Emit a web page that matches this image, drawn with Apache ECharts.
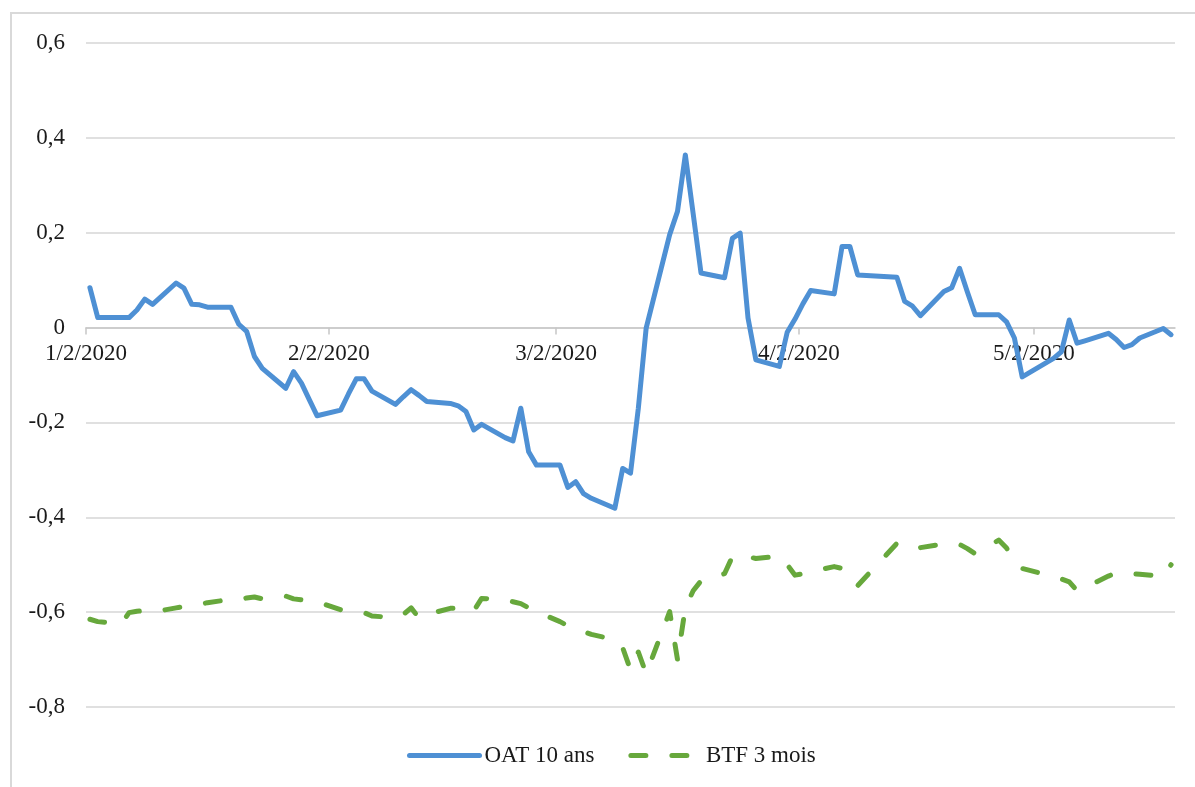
<!DOCTYPE html>
<html>
<head>
<meta charset="utf-8">
<style>
  html, body { margin: 0; padding: 0; background: #ffffff; }
  #chart { width: 1195px; height: 787px; }
</style>
<script src="https://cdn.jsdelivr.net/npm/echarts@6/dist/echarts.min.js"></script>
</head>
<body>
<div id="chart"></div>
<script>
// Trading days, Jan 2 – May 19, 2020 (Euronext closed Apr 10, Apr 13, May 1)
const dates = [
  '2020-01-02','2020-01-03','2020-01-06','2020-01-07','2020-01-08','2020-01-09','2020-01-10',
  '2020-01-13','2020-01-14','2020-01-15','2020-01-16','2020-01-17','2020-01-20','2020-01-21',
  '2020-01-22','2020-01-23','2020-01-24','2020-01-27','2020-01-28','2020-01-29','2020-01-30',
  '2020-01-31',
  '2020-02-03','2020-02-04','2020-02-05','2020-02-06','2020-02-07','2020-02-10','2020-02-11',
  '2020-02-12','2020-02-13','2020-02-14','2020-02-17','2020-02-18','2020-02-19','2020-02-20',
  '2020-02-21','2020-02-24','2020-02-25','2020-02-26','2020-02-27','2020-02-28',
  '2020-03-02','2020-03-03','2020-03-04','2020-03-05','2020-03-06','2020-03-09','2020-03-10',
  '2020-03-11','2020-03-12','2020-03-13','2020-03-16','2020-03-17','2020-03-18','2020-03-19',
  '2020-03-20','2020-03-23','2020-03-24','2020-03-25','2020-03-26','2020-03-27','2020-03-30',
  '2020-03-31',
  '2020-04-01','2020-04-02','2020-04-03','2020-04-06','2020-04-07','2020-04-08','2020-04-09',
  '2020-04-14','2020-04-15','2020-04-16','2020-04-17','2020-04-20','2020-04-21','2020-04-22',
  '2020-04-23','2020-04-24','2020-04-27','2020-04-28','2020-04-29','2020-04-30',
  '2020-05-04','2020-05-05','2020-05-06','2020-05-07','2020-05-08','2020-05-11','2020-05-12',
  '2020-05-13','2020-05-14','2020-05-15','2020-05-18','2020-05-19'
];

// OAT 10 ans yield (%)
const oat10 = [
  0.084, 0.021, 0.021, 0.021, 0.037, 0.060, 0.049,
  0.094, 0.083, 0.049, 0.048, 0.043, 0.043, 0.007,
  -0.008, -0.061, -0.086, -0.128, -0.093, -0.117, -0.152,
  -0.186,
  -0.174, -0.140, -0.108, -0.108, -0.134, -0.162, -0.146,
  -0.131, -0.143, -0.156, -0.160, -0.165, -0.177, -0.216,
  -0.204, -0.232, -0.239, -0.170, -0.262, -0.290,
  -0.290, -0.337, -0.325, -0.350, -0.360, -0.381, -0.297,
  -0.307, -0.170, -0.001, 0.196, 0.245, 0.364, 0.240,
  0.115, 0.105, 0.188, 0.199, 0.020, -0.068, -0.082,
  -0.010,
  0.018, 0.050, 0.078, 0.071, 0.171, 0.171, 0.111,
  0.106, 0.055, 0.045, 0.025, 0.076, 0.084, 0.125,
  0.075, 0.027, 0.027, 0.012, -0.022, -0.104,
  -0.065, -0.051, 0.016, -0.033, -0.028, -0.012, -0.025,
  -0.042, -0.036, -0.022, -0.002, -0.015
];

// BTF 3 mois yield (%)
const btf3m = [
  -0.615, -0.620, -0.625, -0.601, -0.598, -0.597, -0.600,
  -0.591, -0.588, -0.586, -0.584, -0.580, -0.573, -0.574,
  -0.570, -0.568, -0.572, -0.566, -0.572, -0.574, -0.576,
  -0.578,
  -0.595, -0.599, -0.601, -0.601, -0.608, -0.612, -0.605,
  -0.591, -0.612, -0.605, -0.592, -0.591, -0.597, -0.597,
  -0.571, -0.574, -0.578, -0.582, -0.591, -0.599,
  -0.620, -0.629, -0.635, -0.641, -0.647, -0.658, -0.675,
  -0.722, -0.684, -0.730, -0.599, -0.700, -0.590, -0.555,
  -0.534, -0.519, -0.483, -0.480, -0.483, -0.487, -0.482,
  -0.500,
  -0.522, -0.519, -0.515, -0.504, -0.508, -0.532, -0.544,
  -0.455, -0.453, -0.462, -0.464, -0.456, -0.458, -0.457,
  -0.466, -0.477, -0.448, -0.465, -0.494, -0.508,
  -0.525, -0.530, -0.536, -0.555, -0.548, -0.524, -0.517,
  -0.517, -0.519, -0.520, -0.525, -0.500
];

const seriesNames = ['OAT 10 ans', 'BTF 3 mois'];
const tickDates = ['2020-01-02', '2020-02-02', '2020-03-02', '2020-04-02', '2020-05-02'];
const tickLabels = ['1/2/2020', '2/2/2020', '3/2/2020', '4/2/2020', '5/2/2020'];
const axisStart = '2020-01-02';
const axisEnd = '2020-05-19';
const yMin = -0.8;
const yMax = 0.6;

// day offset from the first day of the axis
function dayOf(s) {
  const p = s.split('-').map(Number);
  return (Date.UTC(p[0], p[1] - 1, p[2]) - Date.UTC(2020, 0, 2)) / 864e5;
}

// each day occupies one slot; points sit at slot centres, ticks at slot edges
const tickValues = tickDates.map(d => dayOf(d) - 0.5);
const oatData = dates.map((d, i) => [dayOf(d), oat10[i]]);
const btfData = dates.map((d, i) => [dayOf(d), btf3m[i]]);

const serif = '"Liberation Serif", "Times New Roman", serif';
const textColor = '#1a1a1a';
const gridColor = '#d6d6d6';
const axisColor = '#c6c6c6';
const blue = '#4e90d4';
const green = '#67a83c';
const lineW = 5;

const W = 1195, H = 787;
const gridBox = { left: 86, right: 20, top: 43, bottom: 80 };
// the date axis crosses the value axis at 0: lift it from the bottom edge
const plotH = H - gridBox.top - gridBox.bottom;
const zeroLift = plotH * (0 - yMin) / (yMax - yMin);

const chart = echarts.init(document.getElementById('chart'), null, { renderer: 'canvas' });
chart.setOption({
  animation: false,
  backgroundColor: '#ffffff',
  graphic: [{
    type: 'rect',
    silent: true,
    shape: { x: 11, y: 13, width: 1200, height: 800 },
    style: { fill: 'none', stroke: '#d9d9d9', lineWidth: 2 }
  }],
  grid: gridBox,
  legend: {
    left: 402,
    top: 739,
    itemWidth: 70,
    itemHeight: 24,
    itemGap: 34,
    data: seriesNames,
    itemStyle: { opacity: 0 },
    lineStyle: { opacity: 1, width: lineW, cap: 'round' },
    textStyle: { fontFamily: serif, fontSize: 23, color: textColor }
  },
  xAxis: {
    type: 'value',
    min: dayOf(axisStart) - 0.5,
    max: dayOf(axisEnd) + 0.5,
    position: 'bottom',
    offset: -zeroLift,
    axisLine: { onZero: false, lineStyle: { color: axisColor, width: 1.5 } },
    axisTick: {
      show: true,
      customValues: tickValues,
      length: 7,
      lineStyle: { color: axisColor, width: 1.5 }
    },
    axisLabel: {
      customValues: tickValues,
      margin: 15,
      fontFamily: serif,
      fontSize: 23,
      color: textColor,
      formatter: function (v) {
        const i = tickValues.findIndex(t => Math.abs(t - v) < 1e-6);
        return i >= 0 ? tickLabels[i] : '';
      }
    },
    splitLine: { show: false }
  },
  yAxis: {
    type: 'value',
    min: yMin,
    max: yMax,
    interval: 0.2,
    axisLine: { show: false },
    axisTick: { show: false },
    axisLabel: {
      margin: 21,
      fontFamily: serif,
      fontSize: 23,
      color: textColor,
      formatter: function (v) {
        if (Math.abs(v) < 1e-9) return '0';
        return v.toFixed(1).replace('.', ',');
      }
    },
    splitLine: { lineStyle: { color: gridColor, width: 1.5 } }
  },
  series: [
    {
      name: seriesNames[0],
      type: 'line',
      data: oatData,
      symbol: 'none',
      z: 3,
      lineStyle: { color: blue, width: lineW, join: 'round', cap: 'round' },
      itemStyle: { color: blue }
    },
    {
      name: seriesNames[1],
      type: 'line',
      data: btfData,
      symbol: 'none',
      z: 2,
      lineStyle: { color: green, width: lineW, type: [15, 26], cap: 'round', join: 'round' },
      itemStyle: { color: green }
    }
  ]
});
</script>
</body>
</html>
